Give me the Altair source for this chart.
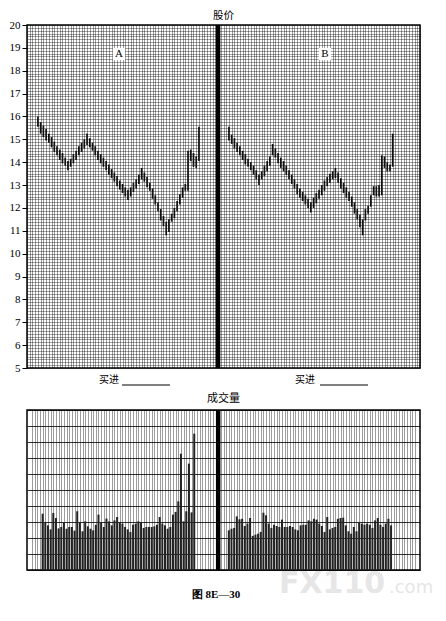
import altair as alt
import pandas as pd

# ---------------- data ----------------
# Panel A daily price bars (high / low)
a_high = [16.00, 15.75, 15.60, 15.45, 15.25, 15.10, 14.90, 14.70, 14.55, 14.40, 14.20, 14.05,
          14.15, 14.35, 14.50, 14.70, 14.85, 15.00, 15.25,
          15.05, 14.85, 14.70, 14.50, 14.35, 14.20, 14.05, 13.90, 13.70, 13.55, 13.40, 13.20, 13.05, 12.90, 12.80,
          12.90, 13.10, 13.25, 13.45, 13.75,
          13.55, 13.35, 13.10, 12.85, 12.55, 12.25, 11.95, 11.65, 11.40,
          11.50, 11.75, 12.00, 12.30, 12.60, 12.90, 13.05, 14.50, 14.55, 14.40, 14.25, 15.55]
a_low = [15.55, 15.25, 15.10, 14.95, 14.85, 14.65, 14.45, 14.30, 14.10, 13.95, 13.85, 13.65,
         13.80, 13.95, 14.10, 14.30, 14.45, 14.60, 14.75,
         14.65, 14.50, 14.30, 14.10, 13.95, 13.80, 13.65, 13.45, 13.30, 13.15, 12.95, 12.80, 12.65, 12.50, 12.35,
         12.50, 12.70, 12.85, 13.05, 13.25,
         13.15, 12.90, 12.75, 12.40, 12.15, 11.85, 11.45, 11.20, 10.80,
         10.95, 11.40, 11.55, 11.85, 12.15, 12.45, 12.75, 12.75, 14.05, 13.80, 13.75, 14.05]

# Panel B daily price bars (high / low)
b_high = [15.55, 15.20, 15.05, 14.85, 14.70, 14.50, 14.35, 14.15, 14.00, 13.85, 13.65, 13.45,
          13.60, 13.85, 14.05, 14.25, 14.80,
          14.60, 14.40, 14.20, 14.05, 13.85, 13.65, 13.45, 13.25, 13.05, 12.85, 12.70, 12.55, 12.40, 12.25,
          12.45, 12.65, 12.80, 13.00, 13.20, 13.35, 13.50, 13.60, 13.75,
          13.55, 13.30, 13.10, 12.90, 12.70, 12.50, 12.25, 11.95, 11.70, 11.50,
          11.95, 12.10, 12.55, 12.95, 12.95, 13.00, 14.30, 14.25, 14.00, 13.90, 15.25]
b_low = [14.95, 14.80, 14.60, 14.45, 14.30, 14.10, 13.90, 13.80, 13.65, 13.45, 13.25, 13.00,
         13.25, 13.40, 13.60, 13.85, 14.30,
         14.20, 13.95, 13.75, 13.60, 13.45, 13.25, 13.05, 12.85, 12.60, 12.45, 12.30, 12.15, 12.00, 11.80,
         12.00, 12.20, 12.40, 12.55, 12.75, 12.95, 13.10, 13.25, 13.30,
         13.10, 12.85, 12.65, 12.45, 12.30, 12.05, 11.75, 11.50, 11.15, 10.80,
         11.45, 11.75, 12.05, 12.55, 12.50, 12.50, 12.55, 13.75, 13.60, 13.60, 13.80]

# Volume (grid units, 10 divisions)
vol_a = [3.52, 2.96, 2.79, 2.54, 3.56, 3.25, 2.60, 2.69, 3.00, 2.58, 2.69, 2.69, 2.46, 3.67, 3.00,
         2.42, 3.04, 2.73, 2.58, 2.48, 2.83, 3.46, 2.96, 2.69, 3.21, 3.04, 2.79, 3.10, 3.31,
         2.96, 2.90, 2.69, 2.54, 2.38, 2.83, 2.90, 3.04, 3.00, 2.63, 2.69, 2.69, 2.69, 2.73, 2.83,
         3.31, 2.90, 2.79, 2.58, 2.69, 3.46, 3.63, 4.29, 7.27, 3.04, 3.67, 6.65, 3.60, 8.52]
vol_b = [2.48, 2.58, 2.63, 3.35, 3.17, 3.20, 2.75, 2.90, 3.25, 2.13, 2.21, 2.27, 2.38, 3.58, 3.42,
         2.90, 2.63, 2.83, 2.75, 2.69, 3.15, 2.69, 2.69, 2.75, 2.69, 2.54, 2.48, 2.79, 2.83, 2.83, 3.10,
         3.04, 3.20, 3.15, 2.90, 2.75, 2.38, 3.31, 2.54, 2.63, 2.69, 3.20, 3.25, 3.27, 2.79, 2.42,
         2.27, 2.69, 2.42, 2.96, 2.90, 2.83, 2.90, 2.83, 2.63, 3.10, 3.25, 2.83, 2.69, 2.90, 3.20, 2.79]

a_start = 4      # first trading day column of panel A
b_start = 74     # first trading day column of panel B
divider_col = 70
n_cols = 144
price_ticks = [5 + k / 8 for k in range(121)]
vol_ticks = list(range(11))
price_labels = ["A", "B"]

# ---------------- tables ----------------
price_df = pd.DataFrame({
    "day": [a_start + i for i in range(len(a_high))] + [b_start + i for i in range(len(b_high))],
    "high": a_high + b_high,
    "low": a_low + b_low,
})
vol_df = pd.DataFrame({
    "day": [a_start + i for i in range(len(vol_a))] + [b_start + i for i in range(len(vol_b))],
    "vol": vol_a + vol_b,
})

W, H1, H2 = 393, 343, 160
xscale = alt.Scale(domain=[0, n_cols], nice=False, zero=False)
xaxis = alt.Axis(values=list(range(n_cols + 1)), grid=True, labels=False, ticks=False,
                 domain=False, title=None, gridColor="#000", gridWidth=0.6, gridOpacity=0.65,
                 labelOverlap=False)

price_axis = alt.Axis(values=price_ticks, grid=True, title=None, domain=False,
                      gridColor="#000", gridWidth=0.6, gridOpacity=0.6,
                      labelExpr="datum.value % 1 === 0 ? format(datum.value, 'd') : ''",
                      labelOverlap=False, labelFlush=False,
                      tickOpacity={"condition": {"test": "datum.value % 1 === 0", "value": 1}, "value": 0},
                      tickSize=5, tickColor="#000", labelPadding=2,
                      labelFont="Liberation Serif", labelFontSize=11, labelColor="#000")
pscale = alt.Scale(domain=[5, 20], nice=False, zero=False)

bars = alt.Chart(price_df).mark_rule(strokeWidth=1.7, color="#111").encode(
    x=alt.X("day:Q", scale=xscale, axis=xaxis),
    y=alt.Y("low:Q", scale=pscale, axis=price_axis),
    y2="high:Q",
)

divider = alt.Chart(pd.DataFrame({"c": [divider_col]})).mark_rule(strokeWidth=4.5, color="#000").encode(
    x=alt.X("c:Q", scale=xscale, axis=xaxis)
)

ptitle = alt.Chart(pd.DataFrame({"t": ["股价"]})).mark_text(
    font="Noto Sans CJK SC", fontSize=10.5, color="#000", baseline="middle").encode(
    x=alt.value(W / 2), y=alt.value(-9.5), text="t:N")

lab_df = pd.DataFrame({"t": price_labels, "px": [92, 298]})
lab_box = alt.Chart(lab_df).mark_square(size=150, color="white", opacity=1).encode(
    x=alt.X("px:Q", scale=None), y=alt.value(29))
lab_txt = alt.Chart(lab_df).mark_text(font="Liberation Serif", fontSize=11, color="#000").encode(
    x=alt.X("px:Q", scale=None), y=alt.value(29), text="t:N")

buy_df = pd.DataFrame({"t": ["买进", "买进"], "px": [82, 278], "l1": [95, 293], "l2": [143, 341]})
buy_txt = alt.Chart(buy_df).mark_text(font="Noto Sans CJK SC", fontSize=10, color="#000").encode(
    x=alt.X("px:Q", scale=None), y=alt.value(355), text="t:N")
buy_line = alt.Chart(buy_df).mark_rule(strokeWidth=1, color="#000").encode(
    x=alt.X("l1:Q", scale=None), x2="l2:Q", y=alt.value(360))

price = alt.layer(bars, divider, ptitle, lab_box, lab_txt, buy_txt, buy_line).properties(
    width=W, height=H1)

vaxis = alt.Axis(values=vol_ticks, grid=True, labels=False, ticks=False, domain=False,
                 title=None, gridColor="#000", gridWidth=0.9, gridOpacity=0.9)
vbars = alt.Chart(vol_df).mark_bar(size=2, color="#222").encode(
    x=alt.X("day:Q", scale=xscale, axis=xaxis),
    y=alt.Y("vol:Q", scale=alt.Scale(domain=[0, 10], nice=False), axis=vaxis),
)
vdivider = alt.Chart(pd.DataFrame({"c": [divider_col]})).mark_rule(strokeWidth=4.5, color="#000").encode(
    x=alt.X("c:Q", scale=xscale, axis=xaxis)
)
vtitle = alt.Chart(pd.DataFrame({"t": ["成交量"]})).mark_text(
    font="Noto Sans CJK SC", fontSize=11, color="#000", baseline="middle").encode(
    x=alt.value(W / 2), y=alt.value(-11), text="t:N")
cap = alt.Chart(pd.DataFrame({"t": ["图 8E—30"]})).mark_text(
    font="Liberation Serif", fontSize=11, fontWeight="bold", color="#000").encode(
    x=alt.value(189), y=alt.value(185), text="t:N")
wm1 = alt.Chart(pd.DataFrame({"t": ["FX110"]})).mark_text(
    font="DejaVu Sans", fontSize=30, fontWeight="bold", color="#e6e6e6", align="left", baseline="alphabetic").encode(
    x=alt.value(252), y=alt.value(183), text="t:N")
wm2 = alt.Chart(pd.DataFrame({"t": [".com"]})).mark_text(
    font="DejaVu Sans", fontSize=18, color="#e6e6e6", align="left", baseline="alphabetic").encode(
    x=alt.value(362), y=alt.value(183), text="t:N")

volume = alt.layer(vbars, vdivider, vtitle, cap, wm1, wm2).properties(width=W, height=H2)

chart = alt.vconcat(price, volume, spacing=42, bounds="flush").properties(
    padding={"top": 1, "left": 0, "right": 0, "bottom": 0}
).configure_view(
    stroke="#000", strokeWidth=1.5
)

chart.save("out.html", embed_options={"renderer": "svg", "actions": False})
